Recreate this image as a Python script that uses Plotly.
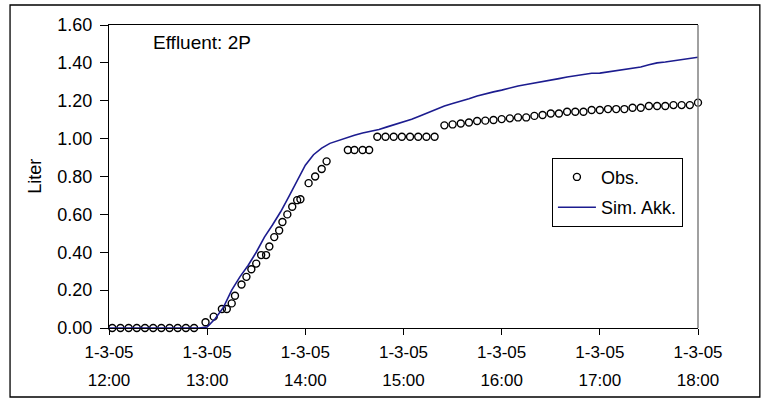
import pandas as pd
import plotly.graph_objects as go

# Observed cumulative effluent (minutes after 12:00 on 1 March 2005, litres)
obs_minutes = [2, 7, 12, 17, 22, 27, 32, 37, 42, 47, 52,
               59, 64, 69, 72, 75, 77, 81, 84, 87, 90, 93, 96, 98, 101,
               104, 106, 109, 112, 115, 117, 122, 126, 130, 133,
               146, 150, 155, 159,
               164, 169, 174, 179, 184, 189, 194, 199,
               205, 210, 215, 220, 225, 230, 235, 240, 245, 250, 255, 260,
               265, 270, 275, 280, 285, 290, 295, 300, 305, 310, 315, 320,
               325, 330, 335, 340, 345, 350, 355, 360]
obs_liter = [0, 0, 0, 0, 0, 0, 0, 0, 0, 0, 0,
             0.03, 0.06, 0.10, 0.10, 0.13, 0.17, 0.23, 0.27, 0.31, 0.34, 0.385, 0.385, 0.43, 0.48,
             0.515, 0.56, 0.60, 0.64, 0.675, 0.68, 0.765, 0.80, 0.84, 0.88,
             0.94, 0.94, 0.94, 0.94,
             1.01, 1.01, 1.01, 1.01, 1.01, 1.01, 1.01, 1.01,
             1.07, 1.075, 1.08, 1.085, 1.093, 1.095, 1.098, 1.103, 1.107, 1.112, 1.112, 1.12,
             1.125, 1.133, 1.133, 1.142, 1.142, 1.142, 1.151, 1.151, 1.156, 1.156, 1.156, 1.163,
             1.163, 1.172, 1.172, 1.172, 1.177, 1.177, 1.177, 1.19]

# Simulated cumulative effluent, one value every 5 minutes from 12:00 to 18:00
sim_step_minutes = 5
sim_liter = [0, 0, 0, 0, 0, 0, 0, 0, 0, 0, 0, 0,
             0.005, 0.05, 0.11, 0.20, 0.27, 0.33, 0.40, 0.48, 0.545, 0.615,
             0.695, 0.78, 0.86, 0.915, 0.95, 0.975, 0.99, 1.005, 1.018, 1.03,
             1.04, 1.048, 1.062, 1.075, 1.088, 1.102, 1.12, 1.137, 1.158, 1.172,
             1.185, 1.196, 1.21, 1.225, 1.237, 1.247, 1.256, 1.268, 1.278, 1.286,
             1.293, 1.302, 1.31, 1.317, 1.325, 1.332, 1.34, 1.345, 1.346, 1.352,
             1.358, 1.364, 1.372, 1.378, 1.39, 1.40, 1.405, 1.412, 1.418, 1.424,
             1.43]

start = pd.Timestamp("2005-03-01 12:00")
tick_hours = [12, 13, 14, 15, 16, 17, 18]
tick_dates = ["1-3-05"] * len(tick_hours)
tick_clock = ["%d:00" % h for h in tick_hours]
y_ticks = [0.0, 0.2, 0.4, 0.6, 0.8, 1.0, 1.2, 1.4, 1.6]

obs_time = [start + pd.Timedelta(minutes=m) for m in obs_minutes]
sim_time = [start + pd.Timedelta(minutes=sim_step_minutes * i) for i in range(len(sim_liter))]
tick_time = [start + pd.Timedelta(hours=h - 12) for h in tick_hours]
x_range = [tick_time[0], tick_time[-1]]

FONT = "Arial, Liberation Sans, sans-serif"

fig = go.Figure()
fig.add_trace(go.Scatter(
    x=obs_time, y=obs_liter, mode="markers", name="Obs.",
    legendgroup="obs",
    marker=dict(symbol="circle-open", size=7, color="black", line=dict(width=1.4, color="black")),
    cliponaxis=False,
))
fig.add_trace(go.Scatter(
    x=sim_time, y=sim_liter, mode="lines", name="Sim. Akk.",
    legendgroup="sim",
    line=dict(color="#1c1c8f", width=1.6),
))
# carrier for the date row of the time axis labels
fig.add_trace(go.Scatter(
    x=sim_time, y=sim_liter, xaxis="x2", mode="lines",
    line=dict(width=0, color="rgba(0,0,0,0)"),
    showlegend=False, hoverinfo="skip",
))

fig.update_layout(
    width=763, height=400, autosize=False,
    margin=dict(l=109, r=65, t=25, b=72),
    paper_bgcolor="white", plot_bgcolor="white",
    font=dict(family=FONT, size=17, color="black"),
    showlegend=True,
    legend=dict(
        x=0.752, y=0.562, xanchor="left", yanchor="top",
        bgcolor="white", bordercolor="black", borderwidth=1,
        font=dict(family=FONT, size=18, color="black"),
        traceorder="grouped", tracegroupgap=4,
        itemwidth=38, entrywidth=108, entrywidthmode="pixels",
    ),
    xaxis=dict(
        type="date", range=x_range, automargin=False,
        tickvals=tick_time, ticktext=tick_clock,
        ticks="outside", ticklen=6, tickcolor="black", tickwidth=1,
        ticklabelstandoff=30,
        showline=True, linecolor="black", linewidth=1.2, mirror=True,
        showgrid=False, zeroline=False,
        tickfont=dict(family=FONT, size=17, color="black"),
    ),
    xaxis2=dict(
        type="date", range=x_range, overlaying="x", side="bottom", anchor="y",
        automargin=False,
        tickvals=tick_time, ticktext=tick_dates,
        ticks="", ticklabelstandoff=12,
        showline=False, showgrid=False, zeroline=False,
        tickfont=dict(family=FONT, size=17, color="black"),
    ),
    yaxis=dict(
        range=[0, 1.6], tickvals=y_ticks, tickformat=".2f", automargin=False,
        ticks="outside", ticklen=8, tickcolor="black", tickwidth=1,
        ticklabelstandoff=4,
        showline=True, linecolor="black", linewidth=1.2,
        showgrid=False, zeroline=False,
        tickfont=dict(family=FONT, size=18, color="black"),
    ),
    annotations=[
        dict(text="Effluent: 2P", xref="paper", yref="paper", x=0.0713, y=0.9406,
             xanchor="left", yanchor="middle", showarrow=False,
             font=dict(family=FONT, size=19, color="black")),
        dict(text="Liter", xref="paper", yref="paper", x=-0.127, y=0.5,
             xanchor="center", yanchor="middle", textangle=-90, showarrow=False,
             font=dict(family=FONT, size=18, color="black")),
    ],
    shapes=[
        # grey right edge of the plot area
        dict(type="line", xref="paper", yref="paper", x0=1, x1=1, y0=0, y1=1,
             line=dict(color="#808080", width=1.5)),
        # outer chart frame
        dict(type="rect", xref="paper", yref="paper",
             x0=-0.168, x1=1.105, y0=-0.2277, y1=1.066,
             line=dict(color="black", width=1.3)),
    ],
)

fig.write_html("out.html")
